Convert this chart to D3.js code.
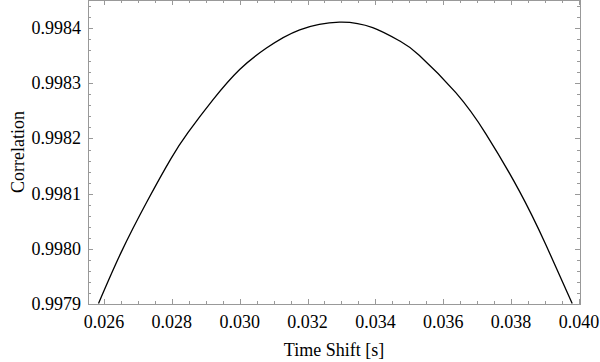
<!DOCTYPE html>
<html>
<head>
<meta charset="utf-8">
<script src="https://cdn.jsdelivr.net/npm/d3@7"></script>
<style>
  body { margin: 0; background: #fff; }
  text { font-family: "Liberation Serif", "DejaVu Serif", serif; fill: #000; }
</style>
</head>
<body>
<svg id="chart"></svg>
<script>
// values
const shiftS = [0.02584, 0.02651, 0.02729, 0.02798, 0.02847, 0.02921, 0.03000, 0.03079,
  0.03177, 0.03294, 0.03392, 0.03471, 0.03529, 0.03637, 0.03726, 0.03824, 0.03902, 0.03980]
const corr = [0.997901, 0.997994, 0.998088, 0.998164, 0.998210, 0.998270, 0.998325, 0.998364,
  0.998397, 0.998411, 0.998401, 0.998377, 0.998351, 0.998283, 0.998208, 0.998105, 0.998008, 0.997901]

const xTicks = [0.026, 0.028, 0.030, 0.032, 0.034, 0.036, 0.038, 0.040]
const yTicks = [0.9979, 0.9980, 0.9981, 0.9982, 0.9983, 0.9984]
const xDomain = [0.02553, 0.04003]
const yDomain = [0.9979, 0.998451]

const width = 600
const height = 362
const margin = { left: 88, right: 20, top: 0, bottom: 58 }
const visWidth = width - margin.left - margin.right
const visHeight = height - margin.top - margin.bottom

const svg = d3.select('svg#chart').attr('width', width).attr('height', height)
const g = svg.append('g').attr('transform', 'translate(' + margin.left + ',' + margin.top + ')')

const xScale = d3.scaleLinear().domain(xDomain).range([0, visWidth])
const yScale = d3.scaleLinear().domain(yDomain).range([visHeight, 0])

// minor ticks: x every 0.0005, y every 0.00002
const xMinor = d3.range(0.0255, 0.04005, 0.0005).filter(v => v >= xDomain[0] && v <= xDomain[1])
const yMinor = d3.range(0, 28).map(i => 0.9979 + i * 0.00002).filter(v => v <= yDomain[1])

const frameColor = '#999'
const major = 5, minor = 3

g.append('clipPath').attr('id', 'clip')
  .append('rect').attr('width', visWidth).attr('height', visHeight)

// curve
g.append('path')
  .datum(shiftS.map((s, i) => [s, corr[i]]))
  .attr('clip-path', 'url(#clip)')
  .attr('fill', 'none')
  .attr('stroke', '#000')
  .attr('stroke-width', 1.3)
  .attr('d', d3.line().x(d => xScale(d[0])).y(d => yScale(d[1])).curve(d3.curveNatural))

// frame ticks on all four sides, pointing inward
const ticks = g.append('g').attr('stroke', frameColor).attr('stroke-width', 1)
function isMajorX(v) { return xTicks.some(t => Math.abs(t - v) < 1e-7) }
function isMajorY(v) { return yTicks.some(t => Math.abs(t - v) < 1e-8) }
xMinor.forEach(v => {
  const x = Math.round(xScale(v)) + 0.5
  const len = isMajorX(v) ? major : minor
  ticks.append('line').attr('x1', x).attr('x2', x).attr('y1', visHeight).attr('y2', visHeight - len)
  ticks.append('line').attr('x1', x).attr('x2', x).attr('y1', 0).attr('y2', len)
})
yMinor.forEach(v => {
  const y = Math.round(yScale(v)) + 0.5
  const len = isMajorY(v) ? major : minor
  ticks.append('line').attr('x1', 0).attr('x2', len).attr('y1', y).attr('y2', y)
  ticks.append('line').attr('x1', visWidth).attr('x2', visWidth - len).attr('y1', y).attr('y2', y)
})

g.append('rect')
  .attr('x', 0.5).attr('y', 0.5)
  .attr('width', visWidth).attr('height', visHeight)
  .attr('fill', 'none').attr('stroke', frameColor)

// tick labels
g.selectAll('text.xl').data(xTicks).enter().append('text')
  .attr('class', 'xl')
  .attr('x', d => xScale(d))
  .attr('y', visHeight + 24)
  .attr('text-anchor', 'middle')
  .attr('font-size', 18)
  .text(d => d3.format('.3f')(d))

g.selectAll('text.yl').data(yTicks).enter().append('text')
  .attr('class', 'yl')
  .attr('x', -7)
  .attr('y', d => yScale(d) + 6)
  .attr('text-anchor', 'end')
  .attr('font-size', 18)
  .text(d => d3.format('.4f')(d))

// axis labels
svg.append('text')
  .attr('x', margin.left + visWidth / 2)
  .attr('y', 356)
  .attr('text-anchor', 'middle')
  .attr('font-size', 18)
  .text('Time Shift [s]')

svg.append('text')
  .attr('transform', 'translate(24,' + (margin.top + visHeight / 2) + ') rotate(-90)')
  .attr('text-anchor', 'middle')
  .attr('font-size', 18)
  .text('Correlation')
</script>
</body>
</html>
